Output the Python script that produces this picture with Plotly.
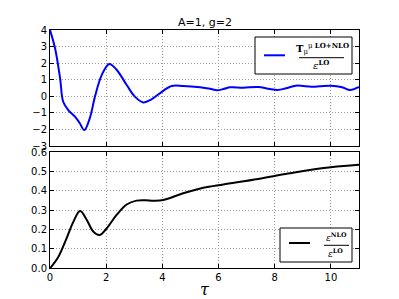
import plotly.graph_objects as go

# ---- data ----
tau_upper = [0, 0.18, 0.36, 0.47, 0.65, 0.89, 1.05, 1.22, 1.42, 1.6, 1.84, 2.11, 2.37,
             2.73, 3.02, 3.32, 3.6, 3.91, 4.33, 4.74, 5.34, 5.7, 5.95, 6.2, 6.41, 6.88,
             7.41, 7.77, 8.1, 8.4, 8.75, 9.31, 9.6, 10.0, 10.4, 10.68, 11.0]
ratio_T = [4.0, 2.9, 1.08, -0.33, -0.83, -1.23, -1.6, -2.04, -1.3, -0.02, 1.28, 1.95, 1.6,
           0.68, -0.02, -0.37, -0.2, 0.18, 0.62, 0.62, 0.54, 0.45, 0.36, 0.45, 0.54, 0.52,
           0.56, 0.46, 0.38, 0.48, 0.64, 0.58, 0.6, 0.64, 0.55, 0.38, 0.56]

tau_lower = [0, 0.3, 0.59, 0.83, 1.07, 1.31, 1.54, 1.76, 2.02, 2.37, 2.73, 3.08, 3.4,
             3.68, 4.03, 4.74, 5.46, 6.17, 7.41, 8.48, 9.67, 11.0]
ratio_eps = [0, 0.06, 0.155, 0.24, 0.296, 0.25, 0.19, 0.172, 0.207, 0.276, 0.33, 0.35,
             0.352, 0.35, 0.353, 0.388, 0.417, 0.434, 0.462, 0.49, 0.517, 0.535]

x_ticks = [0, 2, 4, 6, 8, 10]
upper_ticks = [-3, -2, -1, 0, 1, 2, 3, 4]
lower_ticks = [0.0, 0.1, 0.2, 0.3, 0.4, 0.5, 0.6]

W, H = 399, 299


def px(x):
    return x / W


def py(y):
    return 1 - y / H


fig = go.Figure()
fig.add_trace(go.Scatter(x=tau_upper, y=ratio_T, mode="lines",
                         line=dict(color="#0000ff", width=2, shape="spline"),
                         xaxis="x", yaxis="y", showlegend=False))
fig.add_trace(go.Scatter(x=tau_lower, y=ratio_eps, mode="lines",
                         line=dict(color="black", width=2, shape="spline"),
                         xaxis="x2", yaxis="y2", showlegend=False))

tickfont = dict(family="DejaVu Sans", size=10, color="black")
common_axis = dict(showline=True, mirror="allticks", linecolor="black", linewidth=1,
                   ticks="inside", ticklen=4, tickcolor="black",
                   showgrid=True, gridcolor="#999999", griddash="1px,2px", gridwidth=1,
                   zeroline=False, tickfont=tickfont, automargin=False)

fig.update_layout(
    width=W, height=H,
    margin=dict(l=0, r=0, t=0, b=0),
    paper_bgcolor="white", plot_bgcolor="white",
    xaxis=dict(domain=[px(50), px(359)], anchor="y", range=[0, 11],
               tickvals=x_ticks, showticklabels=False, **common_axis),
    yaxis=dict(domain=[py(146), py(30)], anchor="x", range=[-3, 4],
               tickvals=upper_ticks, **common_axis),
    xaxis2=dict(domain=[px(50), px(359)], anchor="y2", range=[0, 11],
                tickvals=x_ticks, **common_axis),
    yaxis2=dict(domain=[py(268.3), py(152.3)], anchor="x2", range=[0, 0.6],
                tickvals=lower_ticks, tickformat=".1f", **common_axis),
)

serif = "DejaVu Serif"
shapes = []
annotations = []


def label(x, y, text, family, size):
    annotations.append(dict(x=px(x), y=py(y), xref="paper", yref="paper",
                            xanchor="center", yanchor="middle",
                            text=text, showarrow=False,
                            font=dict(family=family, size=size, color="black")))


# title
label(205, 23, "A=1, g=2", "DejaVu Sans", 11)
# x label
label(205, 289, "<i>τ</i>", serif, 16)

# legend 1
shapes.append(dict(type="rect", xref="paper", yref="paper",
                   x0=px(255), x1=px(352), y0=py(74), y1=py(37),
                   line=dict(color="black", width=1), fillcolor="white", layer="above"))
shapes.append(dict(type="line", xref="paper", yref="paper",
                   x0=px(264), x1=px(285), y0=py(55.3), y1=py(55.3),
                   line=dict(color="#0000ff", width=2), layer="above"))
shapes.append(dict(type="line", xref="paper", yref="paper",
                   x0=px(299), x1=px(344), y0=py(57.7), y1=py(57.7),
                   line=dict(color="black", width=1), layer="above"))
label(322, 48, "<b>T</b><sub>μ</sub><sup>μ <b>LO+NLO</b></sup>", serif, 10)
label(321, 65, "<i>ε</i><sup><b>LO</b></sup>", serif, 10)

# legend 2
shapes.append(dict(type="rect", xref="paper", yref="paper",
                   x0=px(280), x1=px(352), y0=py(262), y1=py(228),
                   line=dict(color="black", width=1), fillcolor="white", layer="above"))
shapes.append(dict(type="line", xref="paper", yref="paper",
                   x0=px(289), x1=px(310), y0=py(243), y1=py(243),
                   line=dict(color="black", width=2), layer="above"))
shapes.append(dict(type="line", xref="paper", yref="paper",
                   x0=px(324), x1=px(349), y0=py(245.3), y1=py(245.3),
                   line=dict(color="black", width=1), layer="above"))
label(336, 237, "<i>ε</i><sup><b>NLO</b></sup>", serif, 9)
label(335, 253, "<i>ε</i><sup><b>LO</b></sup>", serif, 9)

fig.update_layout(shapes=shapes, annotations=annotations)
fig.write_html("out.html", config={"displayModeBar": False},
               post_script="document.body.style.margin='0';")
